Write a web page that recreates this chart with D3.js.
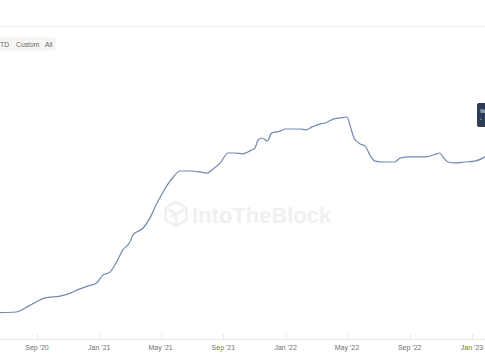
<!DOCTYPE html>
<html>
<head>
<meta charset="utf-8">
<script src="https://cdn.jsdelivr.net/npm/d3@7"></script>
<style>
  body { margin: 0; background: #fff; }
  svg { display: block; font-family: "Liberation Sans", Arial, sans-serif; }
</style>
</head>
<body>
<script>
// data (values in arbitrary units, y axis is cropped away)
const dates = [
  '2020-06-21', '2020-07-22', '2020-08-19', '2020-09-17', '2020-10-16', '2020-11-05',
  '2020-11-24', '2020-12-10', '2020-12-27', '2021-01-08', '2021-01-22', '2021-02-04',
  '2021-02-16', '2021-03-02', '2021-03-08', '2021-03-28', '2021-04-10', '2021-04-24',
  '2021-05-06', '2021-05-14', '2021-05-26', '2021-06-08', '2021-06-28', '2021-07-17',
  '2021-07-31', '2021-08-12', '2021-08-26', '2021-09-10', '2021-09-24', '2021-10-08',
  '2021-10-23', '2021-11-02', '2021-11-08', '2021-11-16', '2021-11-26', '2021-12-05',
  '2021-12-21', '2021-12-31', '2022-01-30', '2022-02-09', '2022-02-22', '2022-03-10',
  '2022-03-20', '2022-04-04', '2022-04-18', '2022-05-01', '2022-05-07', '2022-05-15',
  '2022-05-27', '2022-06-06', '2022-06-15', '2022-06-25', '2022-07-14', '2022-08-03',
  '2022-08-13', '2022-09-01', '2022-10-01', '2022-10-24', '2022-10-30', '2022-11-05',
  '2022-11-15', '2022-11-28', '2022-12-18', '2023-01-06', '2023-01-22', '2023-02-05',
];
const values = [
  8.8, 9, 11.3, 13.7, 14.3, 15.3,
  16.7, 17.7, 18.7, 21.3, 22.3, 25.7,
  29.7, 32.3, 34.7, 37, 40.3, 45.3,
  49, 51.3, 54, 56, 56, 55.7,
  55.3, 56.7, 58.7, 62, 62, 61.7,
  62.7, 63.7, 66.3, 67, 66, 68.7,
  69.3, 70, 70, 69.7, 70.7, 71.7,
  72, 73.3, 73.7, 74, 71.3, 67,
  65, 64.3, 61.3, 59.3, 59, 59,
  60.3, 60.7, 60.7, 61.7, 62, 60.7,
  59, 58.7, 59, 59.3, 60.3, 62,
];
const tickDates = ['2020-09-01', '2021-01-01', '2021-05-01', '2021-09-01',
  '2022-01-01', '2022-05-01', '2022-09-01', '2023-01-01'];
const tickLabels = ["Sep '20", "Jan '21", "May '21", "Sep '21",
  "Jan '22", "May '22", "Sep '22", "Jan '23"];
const buttons = ['TD', 'Custom', 'All'];

const width = 485;
const height = 360;
const parse = d3.timeParse('%Y-%m-%d');

const data = dates.map((d, i) => ({ date: parse(d), value: values[i] }));

const svg = d3.select('body').append('svg')
  .attr('width', width)
  .attr('height', height);

// set the ranges
const x = d3.scaleTime()
  .domain([parse('2020-09-01'), parse('2023-01-01')])
  .range([37, 472]);
const y = d3.scaleLinear().domain([0, 110]).range([339, 9]);

// top divider
svg.append('line')
  .attr('x1', 0).attr('x2', width)
  .attr('y1', 26.5).attr('y2', 26.5)
  .attr('stroke', '#ededed');

// range buttons
svg.append('rect')
  .attr('x', -4).attr('y', 37)
  .attr('width', 60).attr('height', 14)
  .attr('rx', 2)
  .attr('fill', '#f6f6f6');
const btnX = [0, 16, 45];
svg.selectAll('.btn')
  .data(buttons)
  .enter().append('text')
  .attr('class', 'btn')
  .attr('x', (d, i) => btnX[i])
  .attr('y', 47)
  .attr('font-size', '6.8px')
  .attr('fill', '#666')
  .text(d => d);

// watermark
const logo = svg.append('g')
  .attr('transform', 'translate(176,214)')
  .attr('fill', 'none')
  .attr('stroke', '#f0f0f0')
  .attr('stroke-width', 2.5);
const hex = d3.range(6).map(k => {
  const a = Math.PI / 3 * k - Math.PI / 2;
  return [12 * Math.cos(a), 12 * Math.sin(a)];
});
logo.append('path').attr('d', d3.line()(hex) + 'Z');
logo.append('path').attr('d', 'M-10,-6L0,0L10,-6M0,0V12M-6,3L6,-3');
svg.append('text')
  .attr('x', 192)
  .attr('y', 223)
  .attr('font-size', '22px')
  .attr('font-weight', 'bold')
  .attr('fill', '#f0f0f0')
  .text('IntoTheBlock');

// x axis
svg.append('line')
  .attr('x1', 0).attr('x2', width)
  .attr('y1', 339.5).attr('y2', 339.5)
  .attr('stroke', '#e8e8e8');
const ticks = tickDates.map(parse);
svg.selectAll('.tick')
  .data(ticks)
  .enter().append('line')
  .attr('class', 'tick')
  .attr('x1', d => Math.round(x(d)) + 0.5)
  .attr('x2', d => Math.round(x(d)) + 0.5)
  .attr('y1', 334)
  .attr('y2', 340)
  .attr('stroke', '#e8e8e8');
svg.selectAll('.tlabel')
  .data(ticks)
  .enter().append('text')
  .attr('class', 'tlabel')
  .attr('x', d => x(d))
  .attr('y', 350)
  .attr('text-anchor', 'middle')
  .attr('font-size', '7px')
  .attr('fill', '#707070')
  .text((d, i) => tickLabels[i]);

// the line
const valueline = d3.line()
  .x(d => x(d.date))
  .y(d => y(d.value))
  .curve(d3.curveMonotoneX);
svg.append('path')
  .datum(data)
  .attr('fill', 'none')
  .attr('stroke', '#7089b4')
  .attr('stroke-width', 1.2)
  .attr('d', valueline);

// tooltip cut off on the right
svg.append('rect')
  .attr('x', 477).attr('y', 103)
  .attr('width', 14).attr('height', 24)
  .attr('rx', 2)
  .attr('fill', '#2d3d55');
svg.append('text')
  .attr('x', 480).attr('y', 113)
  .attr('font-size', '6px')
  .attr('fill', '#e8ecf2')
  .text('W');
svg.append('text')
  .attr('x', 480).attr('y', 121)
  .attr('font-size', '5px')
  .attr('fill', '#7fa0d0')
  .text('•');
</script>
</body>
</html>
